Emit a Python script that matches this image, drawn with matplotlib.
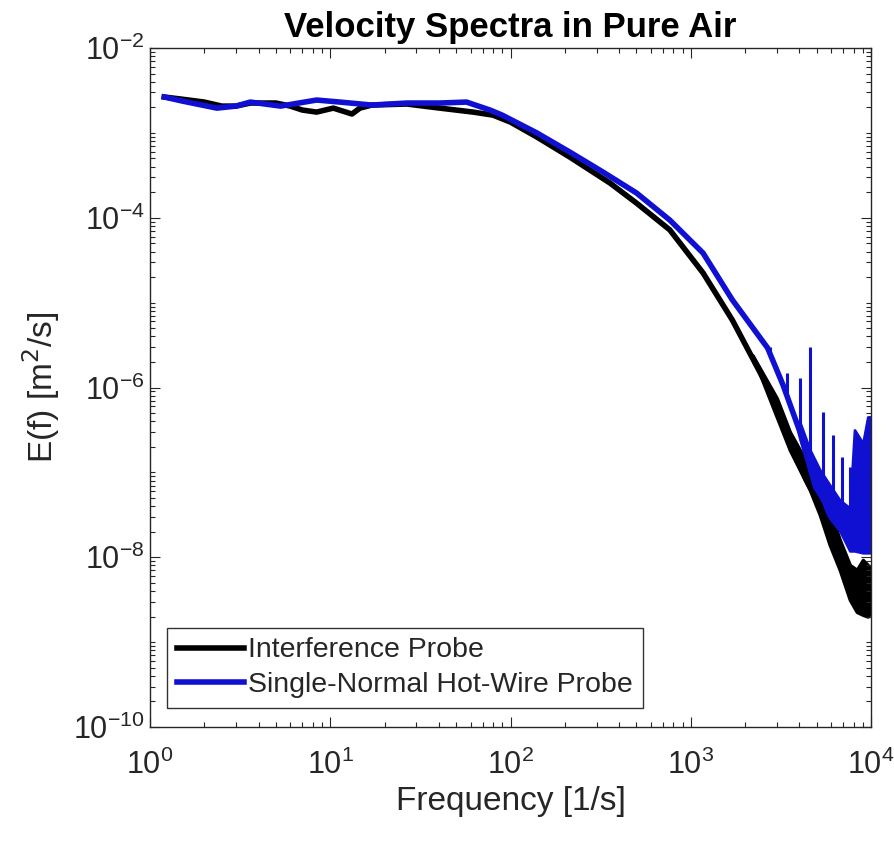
import matplotlib
matplotlib.use("Agg")
import matplotlib.pyplot as plt
from matplotlib.ticker import LogLocator, NullFormatter

plt.rcParams['font.family'] = ['Liberation Sans', 'DejaVu Sans']

# interference probe (black)
f_ip = [1.2, 1.5, 2.0, 2.5, 3.0, 3.6, 5.0, 6.0, 7.0, 8.4, 10.4, 13.2, 14.6, 17, 26.6, 40.5,
        62, 80, 100, 140, 213, 356, 500, 765, 1170, 1700, 2670, 3390, 4380, 5200, 6100,
        7100, 8100, 9200, 10000]
e_ip = [2.65e-3, 2.5e-3, 2.31e-3, 2.07e-3, 2.07e-3, 2.25e-3, 2.25e-3, 2.07e-3, 1.86e-3,
        1.76e-3, 1.96e-3, 1.67e-3, 1.96e-3, 2.13e-3, 2.19e-3, 1.96e-3, 1.76e-3, 1.62e-3,
        1.34e-3, 8.95e-4, 5.2e-4, 2.57e-4, 1.49e-4, 7.2e-5, 2.24e-5, 6.25e-6, 1.02e-6,
        2.92e-7, 8.1e-8, 4.14e-8, 1.6e-8, 8.1e-9, 4.13e-9, 3.16e-9, 3.6e-9]

# noisy band of the black trace at high frequency
f_ip_band = [2200, 3000, 3545, 4027, 4580, 5200, 5900, 6710, 7630, 8340, 9010, 9600, 10000]
e_ip_hi = [2.4e-6, 7.5e-7, 3.0e-7, 1.84e-7, 1.23e-7, 7.1e-8, 3.6e-8, 1.6e-8, 8.1e-9, 7.1e-9,
           9.3e-9, 8.1e-9, 7.1e-9]
e_ip_lo = [2.4e-6, 4.5e-7, 1.84e-7, 1.07e-7, 6.2e-8, 3.16e-8, 1.4e-8, 7.1e-9, 3.16e-9, 2.27e-9,
           2.1e-9, 2.0e-9, 2.27e-9]

# single-normal hot-wire probe (blue)
f_hw = [1.2, 1.5, 2.35, 3.0, 3.6, 5.3, 8.4, 11.3, 17, 26.6, 40.5, 57, 77, 90, 140, 213,
        325, 500, 765, 1170, 1700, 2670, 3250, 4000, 4940, 6600, 7700, 9900]
e_hw = [2.65e-3, 2.38e-3, 1.96e-3, 2.07e-3, 2.31e-3, 2.07e-3, 2.44e-3, 2.31e-3, 2.13e-3,
        2.25e-3, 2.25e-3, 2.31e-3, 1.86e-3, 1.62e-3, 1.0e-3, 5.96e-4, 3.47e-4, 1.96e-4,
        9.4e-5, 3.84e-5, 1.08e-5, 2.92e-6, 1.07e-6, 3.16e-7, 6.6e-8, 2.76e-8, 1.6e-8, 1.4e-8]

f_hw_band = [4027, 4580, 5200, 5900, 6710, 7630, 8100, 9010, 9600, 10000]
e_hw_hi = [3.9e-7, 1.84e-7, 1.07e-7, 7.1e-8, 4.7e-8, 3.8e-8, 3.16e-7, 2.2e-7, 4.5e-7, 4.5e-7]
e_hw_lo = [2.55e-7, 1.07e-7, 4.7e-8, 2.9e-8, 2.05e-8, 1.19e-8, 1.19e-8, 1.13e-8, 1.13e-8, 1.13e-8]

# spikes on the blue trace
f_spk = [2746, 3412, 4027, 4580, 5400, 6140, 6890, 7630, 9600]
e_spk_base = [2.3e-6, 8.2e-7, 3.2e-7, 1.4e-7, 5.4e-8, 3.6e-8, 2.4e-8, 1.6e-8, 1.2e-8]
e_spk_top = [3.0e-6, 1.49e-6, 1.3e-6, 3.0e-6, 5.2e-7, 2.77e-7, 1.5e-7, 1.16e-7, 4.5e-7]

blue = '#1010d2'
grey = '#262626'

fig = plt.figure(figsize=(8.95, 8.43), dpi=100)
ax = fig.add_axes([0.1676, 0.1376, 0.8056, 0.8054])

ax.plot(f_ip, e_ip, color='black', lw=4, label='Interference Probe')
ax.fill_between(f_ip_band, e_ip_lo, e_ip_hi, color='black', lw=2.5, edgecolor='black')
ax.plot(f_hw, e_hw, color=blue, lw=4, label='Single-Normal Hot-Wire Probe')
ax.fill_between(f_hw_band, e_hw_lo, e_hw_hi, color=blue, lw=2, edgecolor=blue)
ax.vlines(f_spk, e_spk_base, e_spk_top, color=blue, lw=2.2)

ax.set_xscale('log')
ax.set_yscale('log')
ax.set_xlim(1, 1e4)
ax.set_ylim(1e-10, 1e-2)
ax.set_yticks([1e-10, 1e-8, 1e-6, 1e-4, 1e-2])
ax.xaxis.set_minor_locator(LogLocator(base=10, subs=range(2, 10), numticks=20))
ax.yaxis.set_minor_locator(LogLocator(base=10, subs=range(1, 10), numticks=30))
ax.xaxis.set_minor_formatter(NullFormatter())
ax.yaxis.set_minor_formatter(NullFormatter())

ax.tick_params(which='both', direction='in', top=True, right=True, colors=grey,
               labelsize=22, width=0.8)
ax.tick_params(which='major', length=7)
ax.tick_params(axis='x', which='major', pad=16)
ax.tick_params(axis='y', which='major', pad=4)
ax.tick_params(which='minor', length=3.5)
for s in ax.spines.values():
    s.set_color(grey)
    s.set_linewidth(1)

ax.set_xlabel('Frequency [1/s]', fontsize=24, color=grey, labelpad=4)
ax.set_ylabel('E(f) [m$^2$/s]', fontsize=24, color=grey, labelpad=8)
ax.set_title('Velocity Spectra in Pure Air', fontsize=25, fontweight='bold', pad=8)

leg = ax.legend(loc='lower left', bbox_to_anchor=(0.024, 0.028), fontsize=20.5,
                frameon=True, fancybox=False, handlelength=2.35, handletextpad=0.15,
                borderpad=0.35, labelspacing=0.3, borderaxespad=0)
leg.get_frame().set_edgecolor('black')
leg.get_frame().set_linewidth(1)
for t in leg.get_texts():
    t.set_color(grey)

fig.savefig('out.png', dpi=100)
